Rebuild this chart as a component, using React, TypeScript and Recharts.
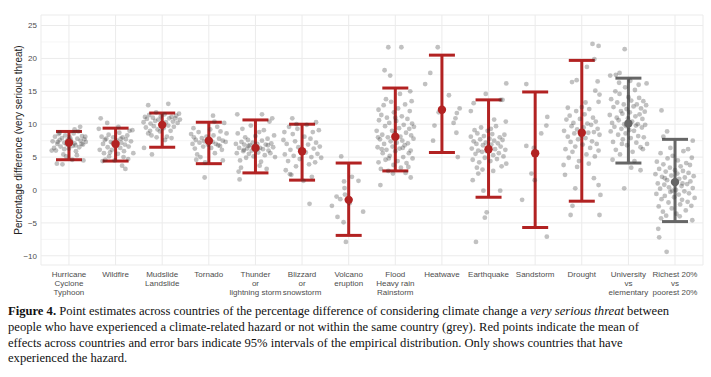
import React from "react";
import {
  ScatterChart,
  Scatter,
  XAxis,
  YAxis,
  CartesianGrid,
  ErrorBar,
} from "recharts";

// x labels, one entry per category (multi-line)
const categories: string[][] = [
  ["Hurricane", "Cyclone", "Typhoon"],
  ["Wildfire"],
  ["Mudslide", "Landslide"],
  ["Tornado"],
  ["Thunder", "or", "lightning storm"],
  ["Blizzard", "or", "snowstorm"],
  ["Volcano", "eruption"],
  ["Flood", "Heavy rain", "Rainstorm"],
  ["Heatwave"],
  ["Earthquake"],
  ["Sandstorm"],
  ["Drought"],
  ["University", "vs", "elementary"],
  ["Richest 20%", "vs", "poorest 20%"],
];

const means = [7.2, 7.0, 9.9, 7.5, 6.4, 5.9, -1.5, 8.1, 12.2, 6.2, 5.6, 8.7, 10.1, 1.2];
const lower = [4.6, 4.4, 6.5, 4.0, 2.6, 1.5, -6.9, 2.9, 5.7, -1.1, -5.7, -1.7, 4.1, -4.8];
const upper = [8.9, 9.4, 11.7, 10.3, 10.65, 10.0, 4.1, 15.5, 20.5, 13.7, 14.9, 19.7, 17.0, 7.7];
// last two are comparisons (grey), not hazards
const isHazard = [true, true, true, true, true, true, true, true, true, true, true, true, false, false];

const yTicks = [-10, -5, 0, 5, 10, 15, 20, 25];
const yMinor = [-7.5, -2.5, 2.5, 7.5, 12.5, 17.5, 22.5];

// country estimates: [jitter offset, value]
const hurricanePts = [
  [-0.35, 7.4], [-0.3, 8.1], [-0.28, 6.0], [-0.25, 7.0], [-0.22, 8.5], [-0.2, 7.6], [-0.18, 6.6], [-0.15, 7.9],
  [-0.12, 5.4], [-0.1, 7.2], [-0.08, 8.3], [-0.05, 6.9], [-0.03, 7.6], [0, 6.3], [0.02, 8.0], [0.05, 7.3],
  [0.08, 6.7], [0.1, 8.6], [0.12, 7.1], [0.15, 5.9], [0.18, 7.8], [0.2, 8.9], [0.22, 6.5], [0.25, 7.5],
  [0.28, 8.2], [0.3, 6.9], [0.33, 7.7], [0.36, 7.3], [-0.32, 6.4], [-0.26, 4.0], [-0.14, 3.9], [-0.06, 5.1],
  [0.07, 4.6], [0.17, 5.3], [0.24, 9.6], [0.31, 4.5], [-0.37, 6.0], [0.12, 9.2], [-0.2, 8.7], [0.04, 7.6],
  [-0.1, 6.2], [0.27, 7.0], [-0.24, 7.3], [0.14, 6.8], [0.35, 8.1],
];
const wildfirePts = [
  [-0.32, 10.9], [-0.18, 10.2], [0.21, 3.2], [0.14, 3.7], [-0.36, 9.3], [-0.3, 8.1], [-0.27, 7.0], [-0.25, 5.6],
  [-0.22, 4.6], [-0.2, 7.8], [-0.17, 6.5], [-0.15, 8.4], [-0.12, 5.7], [-0.1, 7.3], [-0.08, 6.1], [-0.05, 8.0],
  [-0.02, 4.5], [0, 6.8], [0.03, 7.5], [0.05, 5.5], [0.08, 8.7], [0.1, 6.4], [0.12, 7.2], [0.15, 8.0],
  [0.17, 5.0], [0.2, 6.9], [0.22, 7.7], [0.25, 8.3], [0.28, 6.6], [0.3, 9.0], [0.33, 7.4], [0.36, 9.1],
  [0.38, 5.6], [-0.34, 6.1], [-0.28, 4.4], [-0.14, 5.1], [0.06, 9.6], [0.18, 5.9], [0.27, 4.7], [-0.06, 7.1],
  [0.11, 7.8], [-0.23, 7.6],
];
const mudslidePts = [
  [-0.3, 12.9], [0.13, 13.1], [-0.39, 6.4], [-0.22, 5.4], [-0.4, 10.3], [-0.37, 11.1], [-0.35, 9.5], [-0.33, 10.8],
  [-0.3, 8.6], [-0.28, 11.4], [-0.25, 10.1], [-0.23, 8.3], [-0.2, 11.0], [-0.18, 9.7], [-0.15, 10.5], [-0.13, 11.8],
  [-0.1, 9.2], [-0.08, 10.7], [-0.05, 8.9], [-0.03, 11.2], [0, 10.0], [0.03, 9.4], [0.05, 11.5], [0.08, 10.3],
  [0.1, 8.1], [0.13, 9.8], [0.15, 10.9], [0.18, 9.0], [0.2, 11.1], [0.23, 10.4], [0.25, 9.6], [0.28, 10.9],
  [0.3, 11.3], [0.33, 10.2], [0.36, 11.6], [0.38, 10.7], [-0.26, 9.0], [0.06, 7.6], [0.2, 7.9], [-0.12, 8.0],
];
const tornadoPts = [
  [0.09, 11.3], [-0.09, 1.9], [0.3, 4.5], [-0.38, 8.5], [-0.35, 7.0], [-0.32, 8.0], [-0.3, 6.3], [-0.28, 7.6],
  [-0.25, 5.4], [-0.22, 8.8], [-0.2, 7.2], [-0.18, 5.0], [-0.15, 7.9], [-0.12, 6.6], [-0.1, 7.4], [-0.08, 4.2],
  [-0.05, 8.1], [-0.02, 6.9], [0, 7.7], [0.03, 9.2], [0.05, 6.4], [0.08, 7.3], [0.1, 8.3], [0.13, 5.6],
  [0.15, 7.0], [0.18, 9.6], [0.2, 6.8], [0.22, 7.8], [0.25, 8.9], [0.28, 6.1], [0.3, 7.5], [0.33, 10.2],
  [0.36, 7.3], [0.38, 8.6], [-0.33, 9.4], [0.12, 10.4], [-0.27, 4.6], [0.24, 6.7],
];
const thunderPts = [
  [-0.39, 11.5], [0.14, 11.5], [-0.34, 1.6], [-0.36, 2.8], [-0.42, 7.0], [-0.4, 5.6], [-0.38, 8.6], [-0.35, 6.4],
  [-0.33, 4.5], [-0.3, 7.3], [-0.28, 9.3], [-0.26, 5.9], [-0.24, 6.9], [-0.22, 8.0], [-0.2, 4.9], [-0.18, 6.3],
  [-0.16, 7.6], [-0.14, 5.5], [-0.12, 6.8], [-0.1, 9.8], [-0.08, 6.0], [-0.06, 7.2], [-0.04, 5.1], [-0.02, 6.6],
  [0, 8.2], [0.02, 6.1], [0.04, 7.0], [0.06, 5.7], [0.08, 8.8], [0.1, 6.4], [0.12, 4.3], [0.14, 7.5],
  [0.16, 6.2], [0.18, 9.1], [0.2, 5.3], [0.22, 6.9], [0.24, 3.2], [0.26, 7.8], [0.28, 6.0], [0.3, 10.4],
  [0.32, 5.6], [0.34, 7.1], [0.36, 10.9], [0.38, 6.5], [0.4, 8.3], [0.42, 5.0], [-0.31, 3.4], [0.09, 3.7],
  [-0.15, 6.7], [0.05, 6.3], [-0.25, 6.1], [0.27, 6.8],
];
const blizzardPts = [
  [0.16, -2.1], [-0.21, 10.9], [0.03, 1.4], [-0.4, 7.6], [-0.37, 5.4], [-0.35, 3.0], [-0.33, 7.0], [-0.3, 4.4],
  [-0.28, 9.6], [-0.25, 6.1], [-0.23, 2.3], [-0.2, 8.5], [-0.18, 5.2], [-0.15, 7.4], [-0.13, 3.6], [-0.1, 9.3],
  [-0.08, 6.5], [-0.05, 4.7], [0.05, 8.1], [0.08, 5.7], [0.1, 9.9], [0.13, 6.9], [0.15, 3.9], [0.18, 7.8],
  [0.2, 5.0], [0.23, 8.8], [0.25, 6.3], [0.28, 4.2], [0.3, 7.2], [0.33, 5.5], [0.36, 9.1], [0.38, 6.6],
  [0.41, 4.9], [-0.26, 2.4], [0.21, 2.0], [-0.12, 10.0], [0.3, 10.3], [-0.38, 8.8],
];
const volcanoPts = [
  [-0.16, 5.1], [0.07, 2.0], [0.21, 1.4], [-0.1, 1.3], [-0.09, 0.3], [-0.26, -1.0], [-0.18, -1.4], [-0.36, -2.4],
  [0.31, -3.3], [-0.24, -4.1], [-0.11, -4.9], [-0.06, -7.9], [-0.08, -0.7], [0.02, -2.0],
];
const floodPts = [
  [-0.15, 21.7], [0.13, 21.7], [-0.23, 18.2], [-0.11, 17.4], [-0.32, 0.75], [0.33, 1.9], [0.32, 15.0], [0.35, 13.5],
  [-0.36, 12.2], [-0.4, 9.0], [-0.38, 6.5], [-0.36, 4.2], [-0.35, 10.6], [-0.33, 7.7], [-0.31, 3.2], [-0.3, 11.4],
  [-0.28, 8.4], [-0.27, 5.6], [-0.25, 12.9], [-0.24, 7.0], [-0.22, 9.7], [-0.21, 4.6], [-0.19, 6.1], [-0.18, 11.0],
  [-0.16, 8.0], [-0.15, 2.9], [-0.13, 10.2], [-0.12, 5.2], [-0.1, 7.4], [-0.09, 13.4], [-0.07, 9.0], [-0.06, 6.6],
  [-0.04, 3.8], [-0.03, 11.8], [-0.01, 8.6], [0, 5.9], [0.02, 10.5], [0.03, 7.2], [0.05, 4.4], [0.06, 12.4],
  [0.08, 9.4], [0.09, 6.3], [0.11, 8.1], [0.12, 3.4], [0.14, 11.2], [0.15, 7.5], [0.17, 5.0], [0.18, 9.9],
  [0.2, 6.8], [0.21, 13.0], [0.23, 8.7], [0.24, 4.1], [0.26, 10.8], [0.27, 7.1], [0.29, 5.6], [0.3, 9.3],
  [0.31, 12.0], [0.33, 6.0], [0.34, 8.3], [0.36, 10.1], [0.37, 4.8], [0.39, 7.8], [0.4, 9.6], [-0.37, 8.0],
  [-0.2, 13.8], [0.1, 14.6], [-0.05, 2.5], [0.22, 2.6], [-0.29, 6.2], [0.0, 11.0], [0.16, 6.4], [-0.14, 4.8],
  [0.28, 3.5],
];
const heatwavePts = [
  [-0.09, 21.7], [-0.25, 17.8], [-0.36, 16.1], [0.15, 14.4], [0.38, 12.4], [0.32, 11.7], [0.29, 10.9], [-0.07, 11.8],
  [0.25, 10.2], [-0.16, 9.8], [0.31, 8.7], [-0.19, 7.5], [0.34, 5.0],
];
const earthquakePts = [
  [-0.06, 14.6], [0.38, 16.2], [0.26, 13.7], [0.3, 13.7], [-0.32, 13.2], [-0.38, 12.0], [0.37, 10.4], [0.12, 10.7],
  [-0.34, 1.5], [-0.11, -0.1], [0.25, -0.1], [-0.04, -3.4], [-0.08, -4.2], [-0.27, -7.9], [-0.22, 2.5], [-0.25, 3.4],
  [-0.38, 8.1], [-0.36, 6.3], [-0.34, 4.6], [-0.32, 7.4], [-0.3, 9.1], [-0.28, 5.5], [-0.26, 7.0], [-0.24, 8.6],
  [-0.22, 6.0], [-0.2, 4.2], [-0.18, 7.7], [-0.16, 9.5], [-0.14, 5.8], [-0.12, 6.8], [-0.1, 8.2], [-0.08, 4.9],
  [-0.06, 7.2], [-0.04, 5.9], [-0.02, 9.0], [0, 6.5], [0.02, 7.8], [0.04, 4.4], [0.06, 6.9], [0.08, 8.5],
  [0.1, 5.3], [0.12, 7.5], [0.14, 6.2], [0.16, 9.7], [0.18, 4.7], [0.2, 7.1], [0.22, 5.6], [0.24, 8.0],
  [0.26, 6.6], [0.28, 3.6], [0.3, 7.6], [0.32, 5.1], [0.34, 8.4], [0.36, 6.1], [0.38, 4.0], [0.1, 2.9],
  [-0.13, 3.1], [0.05, 9.3],
];
const sandstormPts = [
  [-0.19, 16.1], [0.26, 11.1], [0.24, 9.8], [0.13, 8.6], [-0.19, 6.7], [-0.03, 6.4], [-0.08, 2.5], [-0.01, 1.5],
  [-0.28, -1.5], [0.25, -7.1],
];
const droughtPts = [
  [0.23, 22.2], [0.36, 21.9], [0.27, 19.9], [0.11, 18.7], [-0.11, 16.7], [-0.21, 16.4], [0.34, 16.5], [0.29, 15.1],
  [0.38, 14.5], [0.36, 13.4], [-0.39, 3.8], [-0.36, 2.3], [-0.14, 0.25], [0.26, 1.8], [0.36, 0.75], [0.4, -0.75],
  [-0.2, -2.4], [-0.24, -3.8], [0.38, -3.8], [-0.38, 9.0], [-0.35, 6.2], [-0.33, 10.7], [-0.3, 8.1], [-0.28, 4.9],
  [-0.26, 11.3], [-0.24, 7.3], [-0.22, 9.7], [-0.2, 5.8], [-0.18, 10.2], [-0.16, 8.6], [-0.14, 6.6], [-0.12, 12.0],
  [-0.1, 9.2], [-0.08, 7.7], [-0.06, 4.4], [-0.04, 10.8], [-0.02, 8.3], [0, 12.6], [0.02, 6.9], [0.04, 9.5],
  [0.06, 11.5], [0.08, 7.9], [0.1, 5.4], [0.12, 10.1], [0.14, 8.7], [0.16, 12.3], [0.18, 6.4], [0.2, 9.9],
  [0.22, 7.4], [0.24, 11.0], [0.26, 8.8], [0.28, 5.1], [0.3, 10.4], [0.32, 7.0], [0.34, 9.3], [0.36, 6.0],
  [0.38, 8.4], [-0.3, 12.5], [0.08, 13.3], [-0.1, 3.5], [0.15, 4.0],
];
const universityPts = [
  [-0.08, 21.4], [-0.39, 17.4], [-0.27, 17.5], [-0.19, 17.8], [0.39, 16.2], [-0.09, 0.25], [0.26, 3.0], [0.06, 3.4],
  [-0.4, 11.4], [-0.38, 8.9], [-0.37, 13.8], [-0.35, 10.2], [-0.33, 7.3], [-0.32, 12.6], [-0.3, 9.6], [-0.28, 15.0],
  [-0.27, 6.1], [-0.25, 11.0], [-0.24, 13.3], [-0.22, 8.4], [-0.21, 10.6], [-0.19, 14.6], [-0.18, 5.4], [-0.16, 12.0],
  [-0.15, 9.3], [-0.13, 11.6], [-0.12, 7.7], [-0.1, 13.0], [-0.09, 10.0], [-0.07, 15.6], [-0.06, 8.6], [-0.04, 12.3],
  [-0.03, 6.8], [-0.01, 10.9], [0, 14.1], [0.02, 9.1], [0.03, 11.8], [0.05, 7.9], [0.06, 13.6], [0.08, 10.4],
  [0.09, 5.8], [0.11, 12.7], [0.12, 9.0], [0.14, 15.2], [0.15, 11.2], [0.17, 7.2], [0.18, 13.0], [0.2, 10.0],
  [0.21, 8.2], [0.23, 14.0], [0.24, 11.5], [0.26, 6.5], [0.27, 12.4], [0.29, 9.5], [0.3, 10.8], [0.32, 13.5],
  [0.33, 8.0], [0.35, 11.9], [0.36, 9.9], [0.38, 12.9], [0.4, 7.0], [-0.34, 4.6], [0.13, 4.4], [-0.2, 16.3],
  [0.04, 16.6], [0.22, 16.0], [-0.05, 9.7], [0.16, 9.8], [-0.14, 7.0], [0.31, 6.2],
];
const richestPts = [
  [-0.29, 12.1], [-0.17, 8.9], [0.38, 7.5], [-0.25, 8.1], [-0.36, -5.9], [-0.34, -7.2], [-0.18, -9.4], [0.37, -4.6],
  [-0.42, 2.4], [-0.4, -0.6], [-0.39, 4.3], [-0.37, 1.0], [-0.35, -2.5], [-0.34, 3.2], [-0.32, 0.2], [-0.31, 5.6],
  [-0.29, -1.4], [-0.28, 2.0], [-0.26, -3.3], [-0.25, 3.9], [-0.23, 0.8], [-0.22, -0.9], [-0.2, 2.8], [-0.19, -3.9],
  [-0.17, 1.5], [-0.16, 4.8], [-0.14, -1.9], [-0.13, 0.4], [-0.11, 3.4], [-0.1, -0.3], [-0.08, 2.2], [-0.07, -2.8],
  [-0.05, 5.2], [-0.04, 1.2], [-0.02, -1.1], [0, 3.0], [0.02, 0.0], [0.03, -3.6], [0.05, 2.5], [0.06, 4.5],
  [0.08, -0.7], [0.09, 1.7], [0.11, -2.2], [0.12, 3.6], [0.14, 0.6], [0.15, -1.5], [0.17, 2.9], [0.18, 5.9],
  [0.2, -0.2], [0.21, 1.9], [0.23, -3.1], [0.24, 4.1], [0.26, 0.9], [0.27, -1.8], [0.29, 2.6], [0.3, -0.5],
  [0.32, 3.8], [0.33, 1.3], [0.35, -2.4], [0.36, 4.9], [0.38, 0.3], [0.4, 2.1], [0.42, -1.2], [-0.3, -4.3],
  [0.1, -4.0], [-0.1, 6.4], [0.28, 6.2], [-0.06, -0.1], [0.16, 1.0], [-0.22, 1.8],
];

const countryPoints = [
  hurricanePts, wildfirePts, mudslidePts, tornadoPts, thunderPts, blizzardPts, volcanoPts,
  floodPts, heatwavePts, earthquakePts, sandstormPts, droughtPts, universityPts, richestPts,
];

const RED = "#B22222";
const GREY = "#666666";

const jitterData = countryPoints.flatMap((pts, i) => pts.map(([dx, v]) => ({ x: i + dx, y: v })));

const summary = means.map((m, i) => ({
  x: i,
  y: m,
  err: [m - lower[i], upper[i] - m],
  hazard: isHazard[i],
}));
const hazardData = summary.filter((d) => d.hazard);
const compareData = summary.filter((d) => !d.hazard);

const fmt = (v: number) => String(v).replace("-", "\u2212");

function CategoryTick(props: any) {
  const { x, y, payload } = props;
  const lines = categories[payload.value] || [];
  return (
    <text x={x} y={y + 4} textAnchor="middle" fontSize={8} fill="#4d4d4d" fontFamily="Liberation Sans, Arial, sans-serif">
      {lines.map((l, k) => (
        <tspan key={k} x={x} dy={k === 0 ? 0 : 9}>
          {l}
        </tspan>
      ))}
    </text>
  );
}

const dot = (r: number, fill: string, opacity = 1) => (p: any) =>
  <circle cx={p.cx} cy={p.cy} r={r} fill={fill} fillOpacity={opacity} />;

export default function App() {
  return (
    <div style={{ position: "absolute", left: 0, top: 0, width: 711, height: 377, background: "#fff" }}>
      <ScatterChart width={711} height={303} margin={{ top: 15, right: 8, bottom: 0, left: 0 }}>
        <CartesianGrid vertical={false} horizontalValues={yMinor} stroke="#f3f3f3" strokeWidth={0.8} />
        <CartesianGrid stroke="#ebebeb" strokeWidth={1} />
        <XAxis
          type="number"
          dataKey="x"
          domain={[-0.6, 13.6]}
          ticks={categories.map((_, i) => i)}
          interval={0}
          tick={<CategoryTick />}
          tickLine={false}
          axisLine={false}
          height={38}
          allowDataOverflow
        />
        <YAxis
          type="number"
          dataKey="y"
          domain={[-11.4, 26.6]}
          ticks={yTicks}
          tickFormatter={fmt}
          tick={{ fontSize: 8, fill: "#4d4d4d", fontFamily: "Liberation Sans, Arial, sans-serif" }}
          tickLine={false}
          axisLine={false}
          tickSize={4}
          tickMargin={0}
          width={41}
          allowDataOverflow
          label={{
            value: "Percentage difference (very serious threat)",
            angle: -90,
            position: "insideLeft",
            offset: 18,
            style: { textAnchor: "middle", fontSize: 10, fill: "#222", fontFamily: "Liberation Sans, Arial, sans-serif" },
          }}
        />
        <Scatter data={jitterData} shape={dot(2.4, "#333333", 0.3)} isAnimationActive={false} />
        <Scatter data={hazardData} shape={dot(4.2, RED)} isAnimationActive={false}>
          <ErrorBar dataKey="err" direction="y" width={13} strokeWidth={3} stroke={RED} />
        </Scatter>
        <Scatter data={compareData} shape={dot(4.2, GREY)} isAnimationActive={false}>
          <ErrorBar dataKey="err" direction="y" width={13} strokeWidth={3} stroke={GREY} />
        </Scatter>
      </ScatterChart>
      <div
        style={{
          position: "absolute",
          left: 8,
          top: 304,
          width: 700,
          fontFamily: "Liberation Serif, 'Times New Roman', serif",
          fontSize: 12.6,
          lineHeight: "15.8px",
          color: "#111",
          whiteSpace: "nowrap",
        }}
      >
        <b>Figure 4.</b> Point estimates across countries of the percentage difference of considering climate change a{" "}
        <i>very serious threat</i> between
        <br />
        people who have experienced a climate-related hazard or not within the same country (grey). Red points indicate the mean of
        <br />
        effects across countries and error bars indicate 95% intervals of the empirical distribution. Only shows countries that have
        <br />
        experienced the hazard.
      </div>
    </div>
  );
}
